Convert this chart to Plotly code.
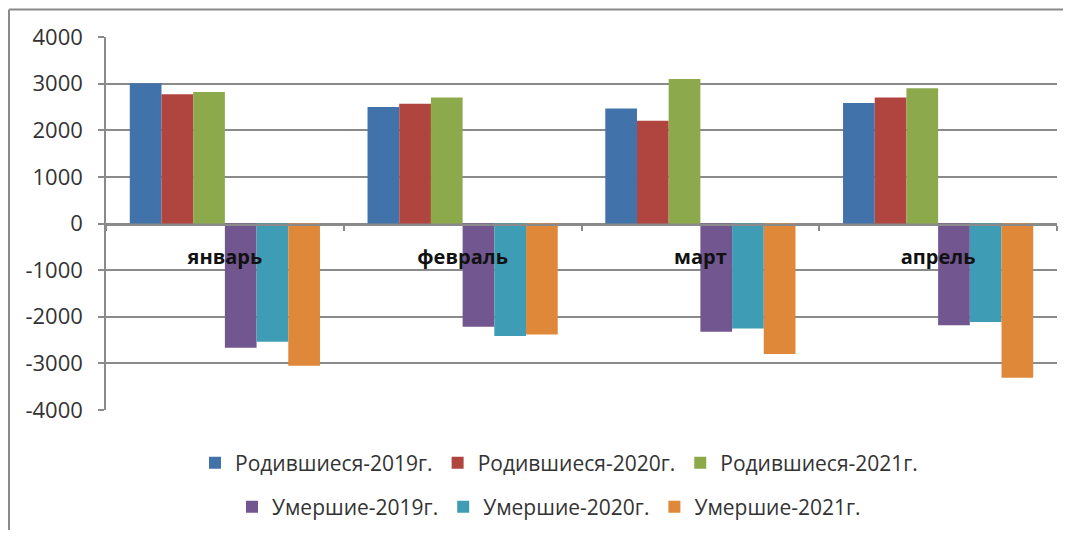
import plotly.graph_objects as go

months = ["январь", "февраль", "март", "апрель"]

born_2019 = [3010, 2500, 2465, 2585]
born_2020 = [2770, 2570, 2205, 2700]
born_2021 = [2820, 2700, 3100, 2900]
died_2019 = [-2665, -2215, -2320, -2180]
died_2020 = [-2535, -2415, -2250, -2110]
died_2021 = [-3050, -2380, -2800, -3310]

series_names = ["Родившиеся-2019г.", "Родившиеся-2020г.", "Родившиеся-2021г.",
                "Умершие-2019г.", "Умершие-2020г.", "Умершие-2021г."]
series_values = [born_2019, born_2020, born_2021, died_2019, died_2020, died_2021]

y_ticks = [4000, 3000, 2000, 1000, 0, -1000, -2000, -3000, -4000]
y_ticktext = [str(v) for v in y_ticks]

colors = ["#4272AA", "#B0453F", "#8CAA4C", "#715690", "#3E9CB4", "#E0883A"]
legends = ["legend", "legend", "legend", "legend2", "legend2", "legend2"]

# page has an 8px body margin; work in window pixels and convert
OFF = 8
W, H = 1071 - 2 * OFF, 538 - 2 * OFF
plot_left, plot_right, plot_top, plot_bottom = 106, 1057, 37, 410  # window px
L = plot_left - OFF
T = plot_top - OFF
R = W - (plot_right - OFF)
B = H - (plot_bottom - OFF)
pw, ph = W - L - R, H - T - B

def px2x(px):
    return (px - plot_left) / pw

def py2y(py):
    return (plot_bottom - py) / ph

fig = go.Figure()
for name, vals, col, lg in zip(series_names, series_values, colors, legends):
    fig.add_trace(go.Bar(x=months, y=vals, name=name, marker=dict(color=col, line=dict(width=0)),
                         legend=lg))

grid = "#8a8a8a"
font_main = "Open Sans"

fig.update_layout(
    width=W, height=H,
    margin=dict(l=L, r=R, t=T, b=B, autoexpand=False),
    paper_bgcolor="white", plot_bgcolor="white",
    barmode="group", bargap=0.2, bargroupgap=0,
    font=dict(family=font_main, color="#333333"),
    xaxis=dict(
        anchor="free", position=py2y(225),
        showline=True, linecolor=grid, linewidth=1.5,
        ticks="outside", ticklen=5, tickcolor=grid, tickwidth=1.5,
        tickson="boundaries", showgrid=False,
        tickfont=dict(family=font_main, size=20, color="#111111", weight="bold"),
        ticklabelstandoff=14,
        range=[-0.5, 3.5], automargin=False,
    ),
    yaxis=dict(
        range=[-4000, 4000],
        tickmode="array", tickvals=y_ticks, ticktext=y_ticktext,
        showgrid=True, gridcolor=grid, gridwidth=1.5,
        zeroline=True, zerolinecolor=grid, zerolinewidth=1.5,
        showline=True, linecolor=grid, linewidth=1.5,
        ticks="outside", ticklen=6, tickcolor=grid, tickwidth=1.5,
        tickfont=dict(family=font_main, size=22, color="#333333"),
        ticklabelstandoff=11, automargin=False,
    ),
    legend=dict(orientation="h", x=px2x(559), xanchor="center", y=py2y(463), yanchor="middle",
                font=dict(family=font_main, size=21, color="#333333"), itemwidth=30,
                bgcolor="rgba(0,0,0,0)"),
    legend2=dict(orientation="h", x=px2x(549), xanchor="center", y=py2y(507), yanchor="middle",
                 font=dict(family=font_main, size=21, color="#333333"), itemwidth=30,
                 bgcolor="rgba(0,0,0,0)"),
    showlegend=True,
    shapes=[
        dict(type="rect", xref="paper", yref="paper", layer="above",
             x0=px2x(1059), x1=px2x(1080), y0=py2y(0), y1=py2y(545),
             fillcolor="white", line=dict(width=0)),
        dict(type="line", xref="paper", yref="paper", x0=px2x(9), x1=px2x(9),
             y0=py2y(9.5), y1=py2y(545), line=dict(color=grid, width=2)),
        dict(type="line", xref="paper", yref="paper", x0=px2x(9), x1=px2x(1080),
             y0=py2y(9.5), y1=py2y(9.5), line=dict(color=grid, width=2)),
    ],
)

fig.write_html(
    "out.html",
    config={"displayModeBar": False},
    post_script="document.documentElement.style.overflow='hidden';",
)
